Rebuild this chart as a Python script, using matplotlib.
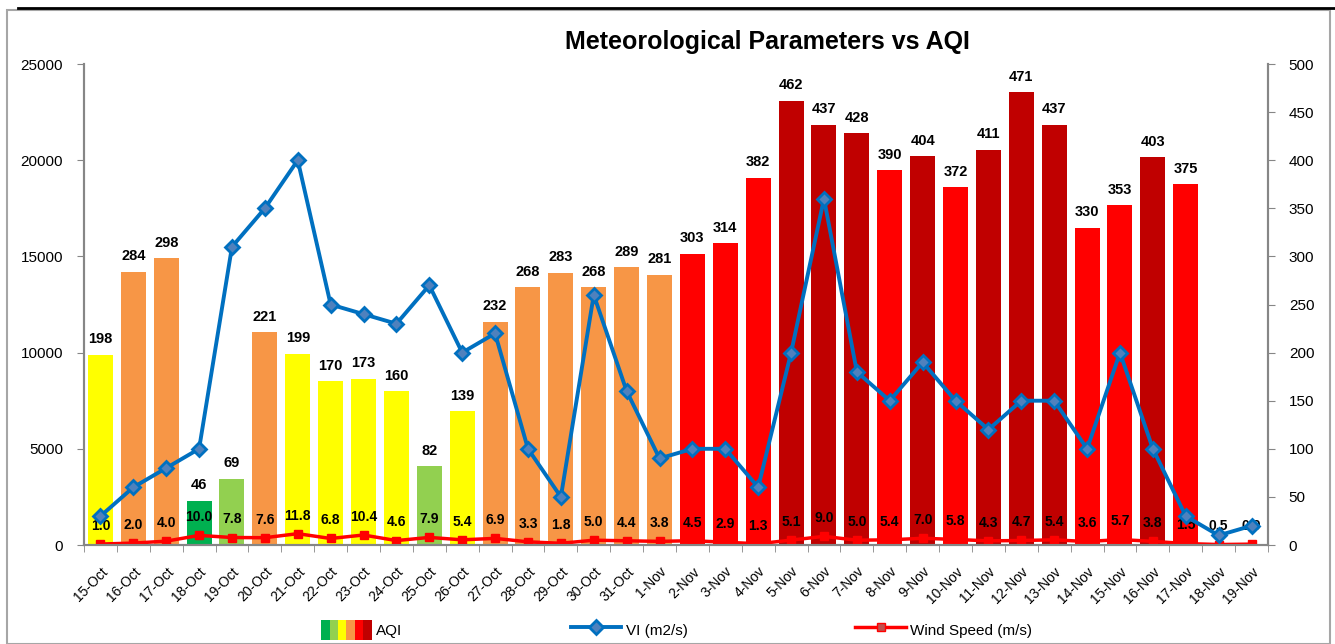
import numpy as np
import matplotlib.pyplot as plt
from matplotlib.patches import Patch, Rectangle
from matplotlib.lines import Line2D
from matplotlib.legend_handler import HandlerTuple

plt.rcParams['font.family'] = ['Liberation Sans', 'DejaVu Sans']

dates = ['15-Oct', '16-Oct', '17-Oct', '18-Oct', '19-Oct', '20-Oct', '21-Oct', '22-Oct',
         '23-Oct', '24-Oct', '25-Oct', '26-Oct', '27-Oct', '28-Oct', '29-Oct', '30-Oct',
         '31-Oct', '1-Nov', '2-Nov', '3-Nov', '4-Nov', '5-Nov', '6-Nov', '7-Nov', '8-Nov',
         '9-Nov', '10-Nov', '11-Nov', '12-Nov', '13-Nov', '14-Nov', '15-Nov', '16-Nov',
         '17-Nov', '18-Nov', '19-Nov']
aqi = [198, 284, 298, 46, 69, 221, 199, 170, 173, 160, 82, 139, 232, 268, 283, 268,
       289, 281, 303, 314, 382, 462, 437, 428, 390, 404, 372, 411, 471, 437, 330, 353,
       403, 375, None, None]
vi = [1500, 3000, 4000, 5000, 15500, 17500, 20000, 12500, 12000, 11500, 13500, 10000,
      11000, 5000, 2500, 13000, 8000, 4500, 5000, 5000, 3000, 10000, 18000, 9000, 7500,
      9500, 7500, 6000, 7500, 7500, 5000, 10000, 5000, 1500, 500, 1000]
wind = [1.0, 2.0, 4.0, 10.0, 7.8, 7.6, 11.8, 6.8, 10.4, 4.6, 7.9, 5.4, 6.9, 3.3, 1.8,
        5.0, 4.4, 3.8, 4.5, 2.9, 1.3, 5.1, 9.0, 5.0, 5.4, 7.0, 5.8, 4.3, 4.7, 5.4, 3.6,
        5.7, 3.8, 1.5, 0.5, 0.9]

# AQI category colours (good .. severe)
aqi_bounds = [50, 100, 200, 300, 400, 500]
aqi_colors = ['#00B050', '#92D050', '#FFFF00', '#F79646', '#FF0000', '#C00000']


def aqi_color(v):
    for b, c in zip(aqi_bounds, aqi_colors):
        if v <= b:
            return c
    return aqi_colors[-1]


x = np.arange(len(dates))
fig = plt.figure(figsize=(13.35, 6.44), dpi=100)
ax_vi = fig.add_axes([0.0629, 0.1537, 0.8869, 0.7469])
ax_aqi = ax_vi.twinx()
ax_vi.set_zorder(ax_aqi.get_zorder() + 1)
ax_vi.patch.set_visible(False)
ax_aqi.set_facecolor('#E4DFEC')

# AQI bars
for xi, v in zip(x, aqi):
    if v is None:
        continue
    ax_aqi.bar(xi, v, width=0.76, color=aqi_color(v), zorder=2)
    ax_aqi.annotate(str(v), (xi, v), xytext=(0, 6), textcoords='offset points',
                    ha='center', va='bottom', fontsize=10.5, fontweight='bold')

# wind speed on the AQI scale
ax_aqi.plot(x, wind, color='#FF0000', lw=2.5, marker='s', ms=6,
            mfc='#FF0000', mec='#FF0000', zorder=3)
for xi, w in zip(x, wind):
    ax_aqi.annotate(f'{w:.1f}', (xi, w), xytext=(0, 8), textcoords='offset points',
                    ha='center', va='bottom', fontsize=10, fontweight='bold', zorder=4)

# ventilation index
ax_vi.plot(x, vi, color='#0070C0', lw=2.8, marker='D', ms=7,
           mfc='#4F81BD', mec='#0070C0', mew=2)

ax_vi.set_xlim(-0.5, len(dates) - 0.5)
ax_vi.set_ylim(0, 25000)
ax_vi.set_yticks(np.arange(0, 25001, 5000))
ax_aqi.set_ylim(0, 500)
ax_aqi.set_yticks(np.arange(0, 501, 50))

ax_vi.set_xticks(x)
ax_vi.set_xticklabels(dates, rotation=45, ha='right', rotation_mode='anchor', fontsize=10)
ax_vi.set_xticks(np.arange(-0.5, len(dates), 1), minor=True)
ax_vi.tick_params(axis='x', which='major', length=0, pad=14)
ax_vi.tick_params(axis='x', which='minor', length=5, color='#868686')
ax_vi.tick_params(axis='y', length=5, color='#868686', labelsize=11, pad=10)
ax_aqi.tick_params(axis='y', length=5, color='#868686', labelsize=11, pad=10)

for a in (ax_vi, ax_aqi):
    a.spines['top'].set_visible(False)
    for s in ('left', 'right', 'bottom'):
        a.spines[s].set_color('#868686')
        a.spines[s].set_linewidth(1.5)

fig.text(0.575, 0.935, 'Meteorological Parameters vs AQI', ha='center', va='center',
         fontsize=18, fontweight='bold')

aqi_handle = tuple(Patch(facecolor=c) for c in aqi_colors)
vi_handle = Line2D([], [], color='#0070C0', lw=2.8, marker='D', ms=7,
                   mfc='#4F81BD', mec='#0070C0', mew=2)
wind_handle = Line2D([], [], color='#FF0000', lw=2.5, marker='s', ms=6,
                     mfc='#C0504D', mec='#FF0000')
fig.legend([aqi_handle, vi_handle, wind_handle], ['AQI', 'VI (m2/s)', 'Wind Speed (m/s)'],
           handler_map={tuple: HandlerTuple(ndivide=None, pad=0)},
           loc='center', bbox_to_anchor=(0.507, 0.022), ncol=3, frameon=False,
           fontsize=11, columnspacing=11, handlelength=3.3, handleheight=1.6,
           handletextpad=0.3)

# chart frame
fig.add_artist(Rectangle((7 / 1335, 0), 1323 / 1335, 634 / 644, transform=fig.transFigure,
                         fill=False, edgecolor='#A6A6A6', lw=1.5))
fig.add_artist(Line2D([18 / 1335, 1], [636 / 644, 636 / 644], transform=fig.transFigure,
                      color='black', lw=2))

fig.savefig('out.png', dpi=100)
